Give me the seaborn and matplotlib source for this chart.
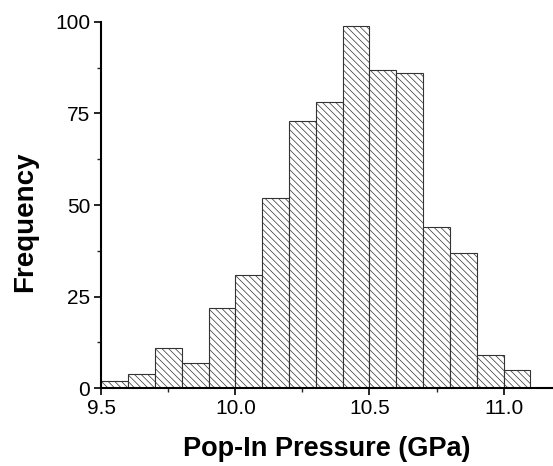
import matplotlib
matplotlib.use("Agg")
import matplotlib.pyplot as plt
import seaborn as sns
import numpy as np
import pandas as pd

bin_edges = [9.5, 9.6, 9.7, 9.8, 9.9, 10.0, 10.1, 10.2, 10.3, 10.4, 10.5, 10.6, 10.7, 10.8, 10.9, 11.0, 11.1]
counts = [2, 4, 11, 7, 22, 31, 52, 73, 78, 99, 87, 86, 44, 37, 9, 5]
x_ticks = [9.5, 10.0, 10.5, 11.0]
x_ticklabels = ["9.5", "10.0", "10.5", "11.0"]
y_ticks = [0, 25, 50, 75, 100]

sns.set_theme(style="ticks")
plt.rcParams['font.family'] = ['Liberation Sans', 'DejaVu Sans']
plt.rcParams['hatch.linewidth'] = 0.5
plt.rcParams['hatch.color'] = '#444444'
plt.rcParams['text.color'] = 'black'
plt.rcParams['axes.labelcolor'] = 'black'

centers = [(bin_edges[i] + bin_edges[i + 1]) / 2 for i in range(len(counts))]
df = pd.DataFrame({"pressure": centers, "count": counts})

fig = plt.figure(figsize=(5.53, 4.66), dpi=100)
ax = fig.add_axes([0.183, 0.167, 0.815, 0.786])
sns.histplot(data=df, x="pressure", weights="count", bins=bin_edges, ax=ax,
             fill=True, color="white", edgecolor="#333333", linewidth=0.8,
             hatch="\\\\\\\\\\", alpha=1.0)

ax.set_xlim(9.5, 11.18)
ax.set_ylim(0, 100)
ax.set_xticks(x_ticks)
ax.set_xticklabels(x_ticklabels)
ax.set_yticks(y_ticks)
ax.set_xticks([9.75, 10.25, 10.75], minor=True)
ax.set_yticks([12.5, 37.5, 62.5, 87.5], minor=True)
ax.tick_params(axis="both", which="major", direction="out", length=5, width=1.2,
               labelsize=15, colors="black", labelcolor="black", pad=3)
ax.tick_params(axis="both", which="minor", direction="out", length=3, width=1.0)
for s in ["top", "right"]:
    ax.spines[s].set_visible(False)
for s in ["left", "bottom"]:
    ax.spines[s].set_linewidth(1.5)
    ax.spines[s].set_color("black")
ax.set_xlabel("Pop-In Pressure (GPa)", fontsize=19.5, fontweight="bold", color="black")
ax.set_ylabel("Frequency", fontsize=20, fontweight="bold", color="black")
ax.xaxis.set_label_coords(0.5, -0.13)
ax.yaxis.set_label_coords(-0.14, 0.454)

fig.savefig("out.png", dpi=100)
